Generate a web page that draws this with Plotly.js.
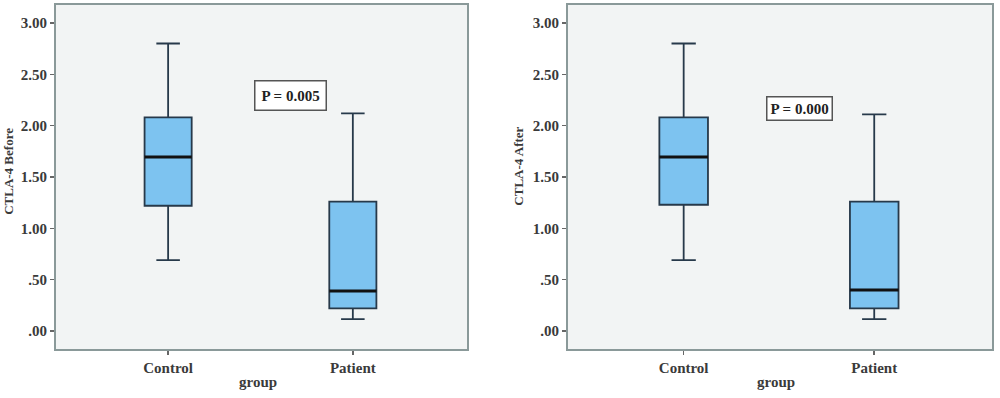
<!DOCTYPE html>
<html>
<head>
<meta charset="utf-8">
<script src="https://cdn.plot.ly/plotly-3.0.1.min.js"></script>
<style>html,body{margin:0;padding:0;background:#fff;}#chart{width:1000px;height:398px;}</style>
</head>
<body>
<div id="chart"></div>
<script>
// ---- data ----
const categories = ["Control", "Patient"];
const beforeLower  = [0.69, 0.115];
const beforeQ1     = [1.22, 0.22];
const beforeMedian = [1.695, 0.39];
const beforeQ3     = [2.08, 1.26];
const beforeUpper  = [2.80, 2.12];

const afterLower  = [0.69, 0.115];
const afterQ1     = [1.23, 0.22];
const afterMedian = [1.695, 0.40];
const afterQ3     = [2.08, 1.26];
const afterUpper  = [2.80, 2.11];

const yTickVals = [0, 0.5, 1, 1.5, 2, 2.5, 3];
const yTickText = [".00", ".50", "1.00", "1.50", "2.00", "2.50", "3.00"];
const pTexts = ["P = 0.005", "P = 0.000"];
const pPos = [[0.665, 2.293], [0.608, 2.166]];
const yTitles = ["CTLA-4 Before", "CTLA-4 After"];
const xTitle = "group";

// ---- style ----
const FONT = "Liberation Serif, Times New Roman, serif";
const TXT = "#3a3a3a";
const BOXW = 0.255;
const boxFill = "#7dc3f0";
const boxLine = "#27394a";
const frame = "#8a9999";

function boxTrace(lower, q1, med, q3, upper, xa, ya) {
  return {
    type: "box", x: categories, q1: q1, median: med, q3: q3,
    lowerfence: lower, upperfence: upper,
    width: BOXW, whiskerwidth: 0.5, boxpoints: false,
    fillcolor: boxFill, line: {color: boxLine, width: 1.8},
    xaxis: xa, yaxis: ya, hoverinfo: "y"
  };
}

const data = [
  boxTrace(beforeLower, beforeQ1, beforeMedian, beforeQ3, beforeUpper, "x", "y"),
  boxTrace(afterLower, afterQ1, afterMedian, afterQ3, afterUpper, "x2", "y2")
];

const shapes = [];
[[beforeMedian, "x", "y"], [afterMedian, "x2", "y2"]].forEach(([med, xr, yr]) => {
  med.forEach((m, i) => {
    shapes.push({type: "line", xref: xr, yref: yr, x0: i - BOXW / 2, x1: i + BOXW / 2,
      y0: m, y1: m, line: {color: "#111", width: 3}});
  });
});

function xAxis(domain, anchor) {
  return {
    domain: domain, anchor: anchor, type: "category", range: [-0.607, 1.618],
    showline: true, mirror: true, linecolor: frame, linewidth: 2,
    ticks: "outside", ticklen: 4, tickcolor: "#666", tickwidth: 1.5,
    showgrid: false, zeroline: false,
    tickfont: {family: FONT, size: 15, color: TXT, weight: "bold"}
  };
}
function yAxis(anchor) {
  return {
    anchor: anchor, domain: [0, 1], range: [-0.175, 3.175],
    tickvals: yTickVals, ticktext: yTickText,
    showline: true, mirror: true, linecolor: frame, linewidth: 2,
    ticks: "outside", ticklen: 4, tickcolor: "#666", tickwidth: 1.5,
    showgrid: false, zeroline: false,
    tickfont: {family: FONT, size: 15, color: TXT, weight: "bold"}
  };
}

const annotations = [];
pTexts.forEach((t, i) => {
  annotations.push({
    xref: i ? "x2" : "x", yref: i ? "y2" : "y", x: pPos[i][0], y: pPos[i][1],
    text: t, showarrow: false, bgcolor: "#ffffff", bordercolor: "#555",
    borderwidth: 1.5, borderpad: i ? 3 : 6,
    font: {family: FONT, size: 15, color: "#222", weight: "bold"}
  });
});
const yTitleX = [0.009, 0.519];
const yTitleY = [0.515, 0.53];
const xTitleX = [0.258, 0.776];
yTitles.forEach((t, i) => {
  annotations.push({xref: "paper", yref: "paper", x: yTitleX[i], y: yTitleY[i], text: t,
    textangle: -90, showarrow: false, xanchor: "center", yanchor: "middle",
    font: {family: FONT, size: 13, color: TXT, weight: "bold"}});
  annotations.push({xref: "paper", yref: "paper", x: xTitleX[i], y: -0.096, text: xTitle,
    showarrow: false, xanchor: "center", yanchor: "middle",
    font: {family: FONT, size: 15, color: TXT, weight: "bold"}});
});

const layout = {
  width: 1000, height: 398,
  margin: {l: 0, r: 0, t: 5, b: 49},
  paper_bgcolor: "#ffffff", plot_bgcolor: "#f2f4f4",
  showlegend: false,
  xaxis: xAxis([0.056, 0.467], "y"),
  yaxis: yAxis("x"),
  xaxis2: xAxis([0.568, 0.992], "y2"),
  yaxis2: yAxis("x2"),
  shapes: shapes,
  annotations: annotations
};

Plotly.newPlot("chart", data, layout, {displayModeBar: false, staticPlot: true});
</script>
</body>
</html>
